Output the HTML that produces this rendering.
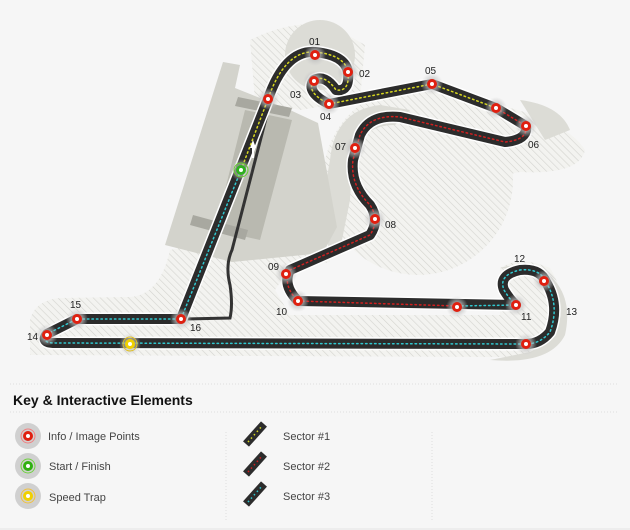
<!DOCTYPE html>
<html><head><meta charset="utf-8"><style>
body{margin:0;background:#f6f6f6;width:630px;height:530px;overflow:hidden;font-family:"Liberation Sans",sans-serif}
svg{position:absolute;left:0;top:0}
</style></head><body>
<svg width="630" height="530" viewBox="0 0 630 530">
<defs>
<pattern id="h" width="5" height="5" patternUnits="userSpaceOnUse" patternTransform="rotate(-45)">
<rect width="5" height="5" fill="#f3f3f0"/><line x1="0" y1="0" x2="0" y2="5" stroke="#d4d4cf" stroke-width="1.2"/>
</pattern>
<radialGradient id="g"><stop offset="0.4" stop-color="#bbb" stop-opacity=".8"/><stop offset="1" stop-color="#ccc" stop-opacity="0"/></radialGradient>
</defs>
<rect width="630" height="530" fill="#f6f6f6"/>
<!-- hatched areas -->
<path d="M30,355 L30,320 Q35,300 60,298 L130,297 Q160,295 170,250 L220,240 L330,250 L330,262 L290,268 L275,290 L290,315 L500,315 L500,268 Q520,255 550,268 Q570,300 560,340 Q540,360 500,357 Z" fill="url(#h)"/>
<circle cx="418" cy="180" r="95" fill="url(#h)"/>
<path d="M440,95 Q560,110 585,150 Q580,175 520,172 Q500,175 480,190 L420,180 Z" fill="url(#h)"/>
<path d="M250,40 Q290,20 330,25 L365,45 L360,100 L300,110 L255,100 Z" fill="url(#h)"/>
<!-- solid blobs -->
<circle cx="320" cy="55" r="35" fill="#dcdcd6"/>
<path d="M330,160 Q335,110 380,105 L410,110 L395,125 Q360,125 352,160 L350,200 L340,250 L330,255 Q320,210 330,160Z" fill="#dcdcd6"/>
<path d="M500,268 Q520,262 540,268 Q575,290 565,335 Q550,365 490,360 L530,352 Q555,340 555,300 Q550,272 520,270Z" fill="#dcdcd6"/>
<path d="M520,100 Q560,105 570,130 L545,140 Z" fill="#dcdcd6"/>
<!-- pit area -->
<path d="M223,62 L240,65 L235,88 L290,110 L318,123 L337,227 L323,253 L232,262 L165,245 Z" fill="#d3d3cc"/>
<path d="M245,110 L292,120 L260,240 L215,230 Z" fill="#b9b9b0"/>
<path d="M238,97 L292,108 L289,117 L235,106Z" fill="#a8a8a0"/>
<path d="M193,215 L248,230 L245,240 L190,225Z" fill="#a8a8a0"/>
<!-- pit lane -->
<path d="M270,103 L232,250 Q225,265 230,285 Q233,305 230,318 L185,319" fill="none" stroke="#333" stroke-width="3"/>
<!-- track -->
<g fill="none" stroke-linecap="round" stroke-linejoin="round">
<path d="M181,319 L268,99 Q285,50 315,52 Q345,55 348,72 Q350,92 336,90 Q325,74 314,80 Q305,92 329,104 L432,84 L496,108 L526,126 Q528,140 505,142 L400,117 Q370,114 360,135 L353,160 Q350,185 370,205 Q380,220 370,235 L290,270 Q282,285 298,301 L516,305 Q510,300 504,290 Q498,275 520,270 Q540,268 546,282 Q560,305 550,332 Q540,344 526,344 L55,343 Q40,343 47,334 L77,319 Z" stroke="#fff" stroke-width="13"/>
<path d="M181,319 L268,99 Q285,50 315,52 Q345,55 348,72 Q350,92 336,90 Q325,74 314,80 Q305,92 329,104 L432,84 L496,108 L526,126 Q528,140 505,142 L400,117 Q370,114 360,135 L353,160 Q350,185 370,205 Q380,220 370,235 L290,270 Q282,285 298,301 L516,305 Q510,300 504,290 Q498,275 520,270 Q540,268 546,282 Q560,305 550,332 Q540,344 526,344 L55,343 Q40,343 47,334 L77,319 Z" stroke="#2c2c2c" stroke-width="10"/>
<path d="M241,170 L268,99 Q285,50 315,52 Q345,55 348,72 Q350,92 336,90 Q325,74 314,80 Q305,92 329,104 L432,84 L496,108" stroke="#d8d820" stroke-width="1.5" stroke-dasharray="1.5 3"/>
<path d="M496,108 L526,126 Q528,140 505,142 L400,117 Q370,114 360,135 L353,160 Q350,185 370,205 Q380,220 370,235 L290,270 Q282,285 298,301 L457,306" stroke="#d02020" stroke-width="1.5" stroke-dasharray="1.5 3"/>
<path d="M457,306 L516,305 Q510,300 504,290 Q498,275 520,270 Q540,268 546,282 Q560,305 550,332 Q540,344 526,344 L55,343 Q40,343 47,334 L77,319 L181,319 L241,170" stroke="#30c8d0" stroke-width="1.5" stroke-dasharray="1.5 3"/>
</g>
<path d="M250,148 L253,140 L256,148 Z M252,148 L252,158 L254,158 L254,148Z" fill="#fff"/>
<g fill="url(#g)">
<circle cx="315" cy="55" r="11"/><circle cx="348" cy="72" r="11"/><circle cx="314" cy="81" r="11"/><circle cx="329" cy="104" r="11"/><circle cx="432" cy="84" r="11"/><circle cx="496" cy="108" r="11"/><circle cx="526" cy="126" r="11"/><circle cx="355" cy="148" r="11"/><circle cx="375" cy="219" r="11"/><circle cx="286" cy="274" r="11"/><circle cx="298" cy="301" r="11"/><circle cx="457" cy="307" r="11"/><circle cx="516" cy="305" r="11"/><circle cx="544" cy="281" r="11"/><circle cx="526" cy="344" r="11"/><circle cx="47" cy="335" r="11"/><circle cx="77" cy="319" r="11"/><circle cx="181" cy="319" r="11"/><circle cx="268" cy="99" r="11"/><circle cx="241" cy="170" r="11"/><circle cx="130" cy="344" r="11"/>
</g>
<g fill="#fff" stroke="#e02010" stroke-width="3">
<circle cx="315" cy="55" r="3.5"/><circle cx="348" cy="72" r="3.5"/><circle cx="314" cy="81" r="3.5"/><circle cx="329" cy="104" r="3.5"/><circle cx="432" cy="84" r="3.5"/><circle cx="496" cy="108" r="3.5"/><circle cx="526" cy="126" r="3.5"/><circle cx="355" cy="148" r="3.5"/><circle cx="375" cy="219" r="3.5"/><circle cx="286" cy="274" r="3.5"/><circle cx="298" cy="301" r="3.5"/><circle cx="457" cy="307" r="3.5"/><circle cx="516" cy="305" r="3.5"/><circle cx="544" cy="281" r="3.5"/><circle cx="526" cy="344" r="3.5"/><circle cx="47" cy="335" r="3.5"/><circle cx="77" cy="319" r="3.5"/><circle cx="181" cy="319" r="3.5"/><circle cx="268" cy="99" r="3.5"/>
</g>
<circle cx="241" cy="170" r="7" fill="none" stroke="#6ad030" stroke-width="1"/>
<circle cx="241" cy="170" r="3.5" fill="#fff" stroke="#30b020" stroke-width="3"/>
<circle cx="130" cy="344" r="7" fill="none" stroke="#e0c020" stroke-width="1"/>
<circle cx="130" cy="344" r="3.5" fill="#fff" stroke="#f0d000" stroke-width="3"/>
<g font-size="10" fill="#222" font-family="Liberation Sans,sans-serif">
<text x="309" y="45">01</text><text x="359" y="77">02</text><text x="290" y="98">03</text><text x="320" y="120">04</text><text x="425" y="74">05</text><text x="528" y="148">06</text><text x="335" y="150">07</text><text x="385" y="228">08</text><text x="268" y="270">09</text><text x="276" y="315">10</text><text x="521" y="320">11</text><text x="514" y="262">12</text><text x="566" y="315">13</text><text x="27" y="340">14</text><text x="70" y="308">15</text><text x="190" y="331">16</text>
</g>
<!-- legend -->
<line x1="10" y1="384" x2="618" y2="384" stroke="#ddd" stroke-dasharray="1 2"/>
<line x1="10" y1="412" x2="618" y2="412" stroke="#ddd" stroke-dasharray="1 2"/>
<line x1="226" y1="432" x2="226" y2="520" stroke="#ddd" stroke-dasharray="1 2"/>
<line x1="432" y1="432" x2="432" y2="520" stroke="#ddd" stroke-dasharray="1 2"/>
<text x="13" y="405" font-size="14" font-weight="bold" fill="#111">Key &amp; Interactive Elements</text>
<circle cx="28" cy="436" r="13" fill="#d0d0d0"/><circle cx="28" cy="436" r="7" fill="none" stroke="#f08080"/><circle cx="28" cy="436" r="3.5" fill="#fff" stroke="#e02010" stroke-width="3"/>
<circle cx="28" cy="466" r="13" fill="#d0d0d0"/><circle cx="28" cy="466" r="7" fill="none" stroke="#70d040"/><circle cx="28" cy="466" r="3.5" fill="#fff" stroke="#30b010" stroke-width="3"/>
<circle cx="28" cy="496" r="13" fill="#d0d0d0"/><circle cx="28" cy="496" r="7" fill="none" stroke="#f0c040"/><circle cx="28" cy="496" r="3.5" fill="#fff" stroke="#f0d000" stroke-width="3"/>
<g font-size="11" fill="#444"><text x="48" y="440">Info / Image Points</text><text x="49" y="470">Start / Finish</text><text x="49" y="501">Speed Trap</text>
<text x="283" y="440">Sector #1</text><text x="283" y="470">Sector #2</text><text x="283" y="500">Sector #3</text></g>
<g stroke-linecap="butt">
<line x1="246" y1="444" x2="264" y2="424" stroke="#2c2c2c" stroke-width="8"/><line x1="248" y1="442" x2="262" y2="426" stroke="#d8d820" stroke-width="1.5" stroke-dasharray="1.5 3"/>
<line x1="246" y1="474" x2="264" y2="454" stroke="#2c2c2c" stroke-width="8"/><line x1="248" y1="472" x2="262" y2="456" stroke="#d02020" stroke-width="1.5" stroke-dasharray="1.5 3"/>
<line x1="246" y1="504" x2="264" y2="484" stroke="#2c2c2c" stroke-width="8"/><line x1="248" y1="502" x2="262" y2="486" stroke="#30c8d0" stroke-width="1.5" stroke-dasharray="1.5 3"/>
</g>
<line x1="0" y1="529" x2="630" y2="529" stroke="#e4e4e4"/>
</svg>
</body></html>
